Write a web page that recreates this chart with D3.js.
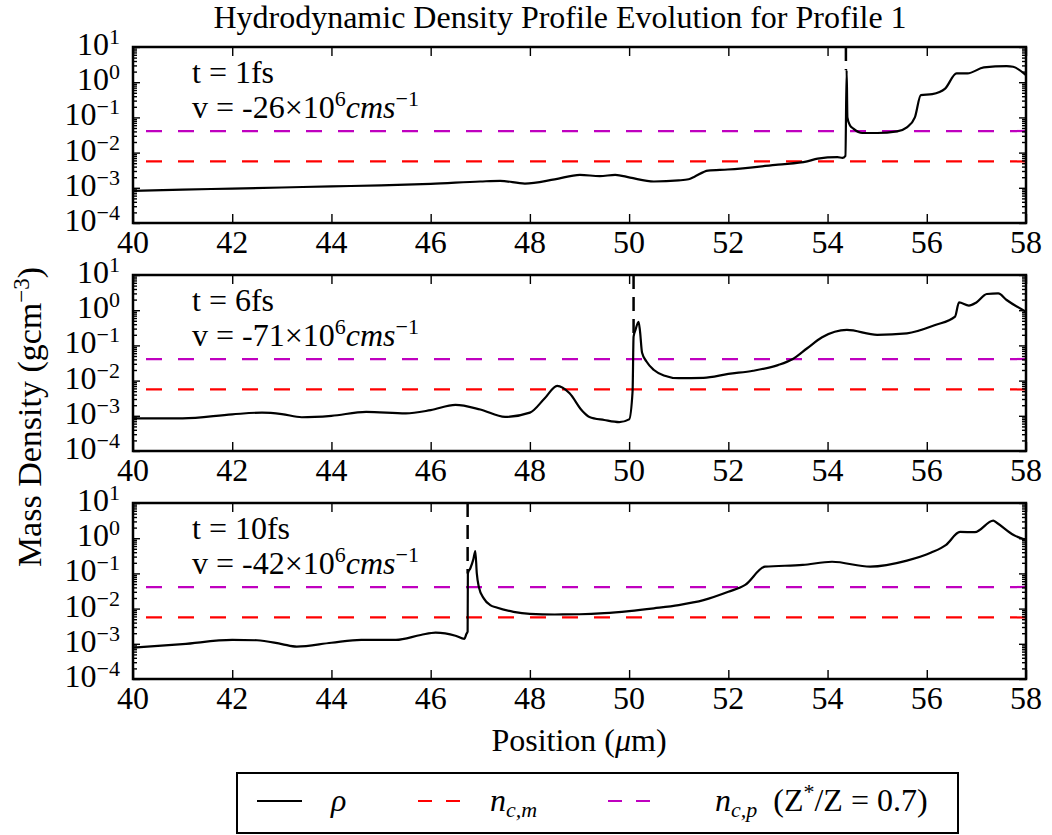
<!DOCTYPE html>
<html><head><meta charset="utf-8">
<script src="https://cdn.jsdelivr.net/npm/d3@7"></script>
<style>body{margin:0;background:#fff} text{font-family:"Liberation Serif","Times New Roman",serif;fill:#000}</style>
</head><body>
<svg id="c" width="1052" height="835"></svg>
<script>
// ---------------- data ----------------
const xTickValues = [40, 42, 44, 46, 48, 50, 52, 54, 56, 58];
const yMajorTicks = [1e-4, 1e-3, 1e-2, 1e-1, 1e0, 1e1];
const yTickExponents = ["\u22124", "\u22123", "\u22122", "\u22121", "0", "1"];
const panelTimes = ["1", "6", "10"];
const panelVelocities = ["-26", "-71", "-42"];
const frontPositions = [54.37, 50.09, 46.745];
const frontLowValues = [2.2, 0.18, 0.10];
const nCritM = 0.0056;
const nCritP = 0.041;

const pos1 = [40, 41, 42, 43, 44, 45, 46, 47, 47.4, 47.9, 48.5, 49.01, 49.41, 49.72, 50.02, 50.5, 51.0, 51.2, 51.31, 51.59, 51.99, 53.0, 53.59, 53.8, 54.2, 54.3, 54.36, 54.385, 54.40, 54.45, 54.52, 54.7, 55.0, 55.4, 55.6, 55.76, 55.88, 56.11, 56.37, 56.6, 56.82, 57.15, 57.61, 57.74, 58.0];
const rho1 = [8.2e-4, 8.9e-4, 9.5e-4, 1.02e-3, 1.10e-3, 1.17e-3, 1.29e-3, 1.51e-3, 1.58e-3, 1.32e-3, 1.74e-3, 2.34e-3, 2.14e-3, 2.34e-3, 1.95e-3, 1.51e-3, 1.62e-3, 1.75e-3, 2.04e-3, 3.09e-3, 3.31e-3, 4.57e-3, 5.62e-3, 6.76e-3, 7.41e-3, 7.08e-3, 8.1e-3, 2.2, 0.10, 0.06, 0.048, 0.036, 0.036, 0.040, 0.052, 0.10, 0.43, 0.46, 0.66, 1.78, 1.78, 2.63, 2.88, 2.75, 1.58];

const pos2 = [40, 41, 42, 42.6, 43, 43.4, 44, 44.7, 45.5, 46, 46.5, 47, 47.5, 48, 48.3, 48.55, 48.8, 49.05, 49.2, 49.5, 49.8, 50.0, 50.07, 50.09, 50.13, 50.19, 50.22, 50.26, 50.35, 50.5, 50.7, 51.0, 51.5, 52.0, 52.5, 53.0, 53.3, 53.59, 53.89, 54.39, 55.0, 55.6, 56.17, 56.57, 56.65, 56.85, 57.0, 57.21, 57.44, 57.61, 58.0];
const rho2 = [8.5e-4, 8.5e-4, 1.10e-3, 1.23e-3, 1.12e-3, 9.1e-4, 1.0e-3, 1.29e-3, 1.17e-3, 1.45e-3, 2.04e-3, 1.51e-3, 9.3e-4, 1.23e-3, 3.16e-3, 7.1e-3, 4.37e-3, 1.41e-3, 9.3e-4, 7.6e-4, 6.6e-4, 7.9e-4, 5.0e-3, 0.178, 0.28, 0.47, 0.25, 0.063, 0.035, 0.020, 0.014, 0.0117, 0.012, 0.0155, 0.019, 0.0275, 0.041, 0.083, 0.17, 0.275, 0.20, 0.22, 0.38, 0.66, 1.66, 1.35, 1.66, 2.88, 3.02, 1.95, 0.91];

const pos3 = [40, 41, 42, 42.5, 43, 43.3, 44, 44.6, 45.3, 45.8, 46.1, 46.5, 46.68, 46.72, 46.745, 46.75, 46.8, 46.86, 46.9, 46.93, 46.97, 47.07, 47.2, 47.33, 47.67, 48.0, 48.5, 49.0, 49.5, 50.0, 50.5, 51.0, 51.5, 52.0, 52.34, 52.74, 53.5, 54.09, 54.86, 55.6, 56.09, 56.39, 56.67, 56.97, 57.34, 57.41, 57.75, 58.0];
const rho3 = [7.8e-4, 9.8e-4, 1.29e-3, 1.26e-3, 9.8e-4, 8.3e-4, 1.07e-3, 1.29e-3, 1.29e-3, 1.78e-3, 2.09e-3, 1.70e-3, 1.38e-3, 1.9e-3, 2.24e-3, 0.10, 0.14, 0.25, 0.43, 0.10, 0.042, 0.0195, 0.0126, 0.0107, 8.1e-3, 7.1e-3, 6.8e-3, 6.9e-3, 7.4e-3, 8.5e-3, 0.0102, 0.0126, 0.0174, 0.030, 0.047, 0.155, 0.174, 0.214, 0.155, 0.23, 0.39, 0.65, 1.51, 1.48, 3.16, 2.75, 1.23, 0.89];

const positions = [pos1, pos2, pos3];
const densities = [rho1, rho2, rho3];

// ---------------- layout ----------------
const svg = d3.select("#c");
const L = 133, R = 1026, H = 176;
const tops = [47, 275, 503];
const FONT = 32, SUP = 22;
const x = d3.scaleLinear().domain([40, 58]).range([L, R]);

const yMinor = [];
for (let e = -4; e < 1; e++) for (let k = 2; k <= 9; k++) yMinor.push(k * Math.pow(10, e));

// title
svg.append("text").attr("x", 560).attr("y", 28).attr("text-anchor", "middle")
  .style("font-size", FONT + "px").text("Hydrodynamic Density Profile Evolution for Profile 1");

tops.forEach((top, i) => {
  const bottom = top + H;
  const y = d3.scaleLog().domain([1e-4, 10]).range([bottom, top]);
  const g = svg.append("g");
  const clipId = "clip" + i;
  svg.append("clipPath").attr("id", clipId).append("rect")
    .attr("x", L).attr("y", top).attr("width", R - L).attr("height", H);

  // reference lines
  [[nCritP, "#bf00bf"], [nCritM, "#ff0000"]].forEach(([v, c]) => {
    g.append("line").attr("x1", L).attr("x2", R).attr("y1", y(v)).attr("y2", y(v))
      .attr("stroke", c).attr("stroke-width", 2.2)
      .attr("stroke-dasharray", "16,16").attr("stroke-dashoffset", 19);
  });

  // front marker
  g.append("line").attr("x1", x(frontPositions[i])).attr("x2", x(frontPositions[i]))
    .attr("y1", y(10)).attr("y2", y(frontLowValues[i]))
    .attr("stroke", "#000").attr("stroke-width", 2.5).attr("stroke-dasharray", "14,8");

  // density curve
  const pts = positions[i].map((p, j) => [p, densities[i][j]]);
  g.append("path").datum(pts).attr("clip-path", `url(#${clipId})`)
    .attr("fill", "none").attr("stroke", "#000").attr("stroke-width", 2.2)
    .attr("stroke-linejoin", "round")
    .attr("d", d3.line().x(d => x(d[0])).y(d => y(d[1])).curve(d3.curveMonotoneX));

  // axes ticks
  const styleAxis = sel => { sel.select(".domain").remove(); sel.selectAll("line").attr("stroke", "#000").attr("stroke-width", 1.4); sel.selectAll("text").remove(); };
  svg.append("g").attr("transform", `translate(0,${bottom})`)
    .call(d3.axisBottom(x).tickValues(xTickValues).tickSize(-9).tickFormat("")).call(styleAxis);
  svg.append("g").attr("transform", `translate(0,${top})`)
    .call(d3.axisTop(x).tickValues(xTickValues).tickSize(-9).tickFormat("")).call(styleAxis);
  svg.append("g").attr("transform", `translate(${L},0)`)
    .call(d3.axisLeft(y).tickValues(yMajorTicks).tickSize(-7).tickFormat("")).call(styleAxis);
  svg.append("g").attr("transform", `translate(${L},0)`)
    .call(d3.axisLeft(y).tickValues(yMinor).tickSize(-4).tickFormat("")).call(styleAxis);
  svg.append("g").attr("transform", `translate(${R},0)`)
    .call(d3.axisRight(y).tickValues(yMajorTicks).tickSize(-7).tickFormat("")).call(styleAxis);
  svg.append("g").attr("transform", `translate(${R},0)`)
    .call(d3.axisRight(y).tickValues(yMinor).tickSize(-4).tickFormat("")).call(styleAxis);

  // frame
  svg.append("rect").attr("x", L).attr("y", top).attr("width", R - L).attr("height", H)
    .attr("fill", "none").attr("stroke", "#000").attr("stroke-width", 2.5);

  // x tick labels
  xTickValues.forEach(v => {
    svg.append("text").attr("x", x(v)).attr("y", bottom + 30).attr("text-anchor", "middle")
      .style("font-size", FONT + "px").text(v);
  });
  // y tick labels
  yMajorTicks.forEach((v, k) => {
    const t = svg.append("text").attr("x", L - 13).attr("y", y(v) + 8).attr("text-anchor", "end")
      .style("font-size", FONT + "px");
    t.append("tspan").text("10");
    t.append("tspan").attr("dy", -11).style("font-size", SUP + "px").text(yTickExponents[k]);
  });

  // annotations
  svg.append("text").attr("x", 192).attr("y", top + 36).style("font-size", FONT + "px")
    .text("t = " + panelTimes[i] + "fs");
  const v = svg.append("text").attr("x", 192).attr("y", top + 71).style("font-size", FONT + "px");
  v.append("tspan").text("v = " + panelVelocities[i] + "\u00d710");
  v.append("tspan").attr("dy", -12).style("font-size", SUP + "px").text("6");
  v.append("tspan").attr("dy", 12).style("font-style", "italic").text("cms");
  v.append("tspan").attr("dy", -12).style("font-size", SUP + "px").text("\u22121");
});

// axis labels
const yl = svg.append("text").attr("transform", "translate(41,417) rotate(-90)")
  .attr("text-anchor", "middle").style("font-size", "34px");
yl.append("tspan").text("Mass Density (gcm");
yl.append("tspan").attr("dy", -12).style("font-size", "23px").text("\u22123");
yl.append("tspan").attr("dy", 12).text(")");

const xl = svg.append("text").attr("x", 579).attr("y", 751).attr("text-anchor", "middle").style("font-size", FONT + "px");
xl.append("tspan").text("Position (");
xl.append("tspan").style("font-style", "italic").text("\u03bc");
xl.append("tspan").text("m)");

// legend
const lg = svg.append("g");
lg.append("rect").attr("x", 237).attr("y", 773).attr("width", 721).attr("height", 60)
  .attr("fill", "#fff").attr("stroke", "#000").attr("stroke-width", 2);
lg.append("line").attr("x1", 257).attr("x2", 302).attr("y1", 801).attr("y2", 801).attr("stroke", "#000").attr("stroke-width", 2.2);
lg.append("line").attr("x1", 418).attr("x2", 460).attr("y1", 801).attr("y2", 801).attr("stroke", "#ff0000").attr("stroke-width", 2.2).attr("stroke-dasharray", "14,14");
lg.append("line").attr("x1", 608).attr("x2", 650).attr("y1", 801).attr("y2", 801).attr("stroke", "#bf00bf").attr("stroke-width", 2.2).attr("stroke-dasharray", "14,14");
lg.append("text").attr("x", 331).attr("y", 811).style("font-size", FONT + "px").style("font-style", "italic").text("\u03c1");
const l2 = lg.append("text").attr("x", 490).attr("y", 811).style("font-size", FONT + "px");
l2.append("tspan").style("font-style", "italic").text("n");
l2.append("tspan").attr("dy", 6).style("font-size", SUP + "px").style("font-style", "italic").text("c,m");
const l3 = lg.append("text").attr("x", 715).attr("y", 811).style("font-size", FONT + "px");
l3.append("tspan").style("font-style", "italic").text("n");
l3.append("tspan").attr("dy", 6).style("font-size", SUP + "px").style("font-style", "italic").text("c,p");
l3.append("tspan").attr("dy", -6).text("\u2002(Z");
l3.append("tspan").attr("dy", -12).style("font-size", SUP + "px").text("*");
l3.append("tspan").attr("dy", 12).text("/Z = 0.7)");
</script>
</body></html>
